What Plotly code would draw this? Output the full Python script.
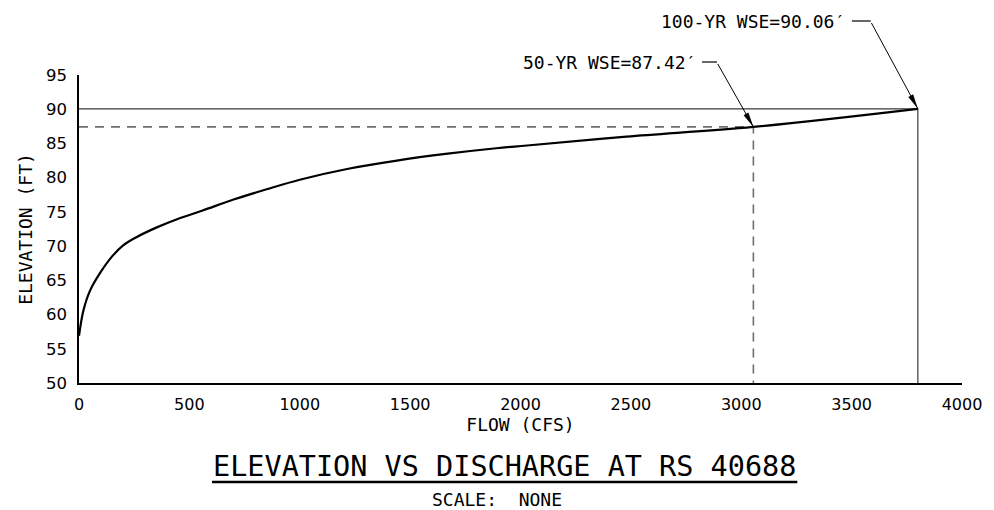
import math
import plotly.graph_objects as go

# Rating curve: flow (cfs) vs water-surface elevation (ft)
flow = [0, 20, 50, 100, 150, 200, 260, 350, 450, 560, 700, 850, 1000, 1220,
        1440, 1670, 1890, 2030, 2480, 3055, 3800]
elev = [56.9, 60.6, 63.5, 66.3, 68.5, 70.1, 71.3, 72.7, 74.0, 75.2, 76.8, 78.3,
        79.7, 81.3, 82.5, 83.5, 84.3, 84.7, 86.0, 87.42, 90.06]

# Design storm water-surface elevations
q50, wse50 = 3055, 87.42
q100, wse100 = 3800, 90.06
label50 = "50-YR WSE=87.42′"
label100 = "100-YR WSE=90.06′"

x_ticks = [0, 500, 1000, 1500, 2000, 2500, 3000, 3500, 4000]
y_ticks = [50, 55, 60, 65, 70, 75, 80, 85, 90, 95]

title_text = "ELEVATION VS DISCHARGE AT RS 40688"
scale_text = "SCALE:  NONE"

SANS = "DejaVu Sans"
MONO = "DejaVu Sans Mono"

fig = go.Figure()

# 100-yr reference lines
fig.add_trace(go.Scatter(x=[0, q100, q100], y=[wse100, wse100, 50], mode="lines",
                         line=dict(color="#3a3a3a", width=1.2), hoverinfo="skip",
                         showlegend=False))
# 50-yr reference lines (dashed)
fig.add_trace(go.Scatter(x=[0, q50, q50], y=[wse50, wse50, 50], mode="lines",
                         line=dict(color="#6e6e6e", width=1.6, dash="9px,7px"),
                         hoverinfo="skip", showlegend=False))
# rating curve
fig.add_trace(go.Scatter(x=flow, y=elev, mode="lines",
                         line=dict(color="black", width=2.2, shape="spline", smoothing=1.0),
                         showlegend=False))

fig.update_xaxes(range=[0, 4000], tickvals=x_ticks, ticktext=[str(v) for v in x_ticks],
                 showgrid=False, zeroline=False, showline=True, linecolor="black",
                 linewidth=1.5, ticks="", ticklabelstandoff=6,
                 tickfont=dict(family=SANS, size=16, color="black"),
                 title=dict(text="FLOW (CFS)", standoff=4,
                            font=dict(family=MONO, size=18, color="black")))
fig.update_yaxes(range=[50, 95], tickvals=y_ticks, ticktext=[str(v) for v in y_ticks],
                 showgrid=False, zeroline=False, showline=True, linecolor="black",
                 linewidth=1.5, ticks="", ticklabelstandoff=7,
                 tickfont=dict(family=SANS, size=16.5, color="black"),
                 title=dict(text="ELEVATION (FT)", standoff=9,
                            font=dict(family=MONO, size=18, color="black")))

# plot-area geometry used to place callouts outside the axes
PLOT_L, PLOT_W, PLOT_B, PLOT_H = 79, 890, 383, 308

def px_to_paper_x(px):
    return (px - PLOT_L) / PLOT_W

def px_to_paper_y(py):
    return (PLOT_B - py) / PLOT_H

annotations = []
shapes = []
HEAD_LEN, HEAD_W = 15, 5.5
for label, q, wse, text_right, lead_start, lead_end, lead_y in [
        (label100, q100, wse100, 853, 858, 877, 21),
        (label50, q50, wse50, 703, 707, 722, 62)]:
    annotations.append(dict(x=px_to_paper_x(text_right), y=px_to_paper_y(lead_y),
                            xref="paper", yref="paper", xanchor="right", yanchor="middle",
                            text=label, showarrow=False,
                            font=dict(family=MONO, size=18, color="black")))
    shapes.append(dict(type="line", xref="paper", yref="paper",
                       x0=px_to_paper_x(lead_start), x1=px_to_paper_x(lead_end),
                       y0=px_to_paper_y(lead_y), y1=px_to_paper_y(lead_y),
                       line=dict(color="black", width=1.2)))
    head_px = PLOT_L + q * PLOT_W / 4000
    head_py = PLOT_B - (wse - 50) * PLOT_H / 45
    ax, ay = lead_end - head_px, lead_y - head_py
    # leader shaft from the text to the water-surface point
    annotations.append(dict(x=q, y=wse, xref="x", yref="y", text=" ",
                            showarrow=True, arrowhead=0, arrowwidth=1.0,
                            arrowcolor="black", standoff=0, startstandoff=0,
                            ax=ax, ay=ay, font=dict(size=1)))
    # slim filled arrowhead anchored on the point (pixel units, y up)
    d = math.hypot(ax, ay)
    ux, uy = ax / d, -ay / d          # unit vector from tip back toward tail, y up
    nx, ny = -uy, ux
    bx, by = ux * HEAD_LEN, uy * HEAD_LEN
    p1 = (bx + nx * HEAD_W / 2, by + ny * HEAD_W / 2)
    p2 = (bx - nx * HEAD_W / 2, by - ny * HEAD_W / 2)
    shapes.append(dict(type="path", xref="x", yref="y", xsizemode="pixel",
                       ysizemode="pixel", xanchor=q, yanchor=wse,
                       path=f"M 0,0 L {p1[0]:.2f},{p1[1]:.2f} L {p2[0]:.2f},{p2[1]:.2f} Z",
                       fillcolor="black", line=dict(width=0), layer="above"))

# chart title, underline and scale note
annotations.append(dict(x=px_to_paper_x(507.5), y=px_to_paper_y(466), xref="paper", yref="paper",
                        xanchor="center", yanchor="middle", text=title_text, showarrow=False,
                        font=dict(family=MONO, size=28.5, color="black")))
shapes.append(dict(type="line", xref="paper", yref="paper",
                   x0=px_to_paper_x(213), x1=px_to_paper_x(803),
                   y0=px_to_paper_y(482), y1=px_to_paper_y(482),
                   line=dict(color="black", width=2.5)))
annotations.append(dict(x=px_to_paper_x(500), y=px_to_paper_y(499), xref="paper", yref="paper",
                        xanchor="center", yanchor="middle", text=scale_text, showarrow=False,
                        font=dict(family=MONO, size=18, color="black")))

fig.update_layout(width=994, height=510,
                  margin=dict(l=PLOT_L, r=994 - PLOT_L - PLOT_W, t=PLOT_B - PLOT_H,
                              b=510 - PLOT_B),
                  paper_bgcolor="white", plot_bgcolor="white",
                  annotations=annotations, shapes=shapes, showlegend=False)

fig.write_html("out.html")
